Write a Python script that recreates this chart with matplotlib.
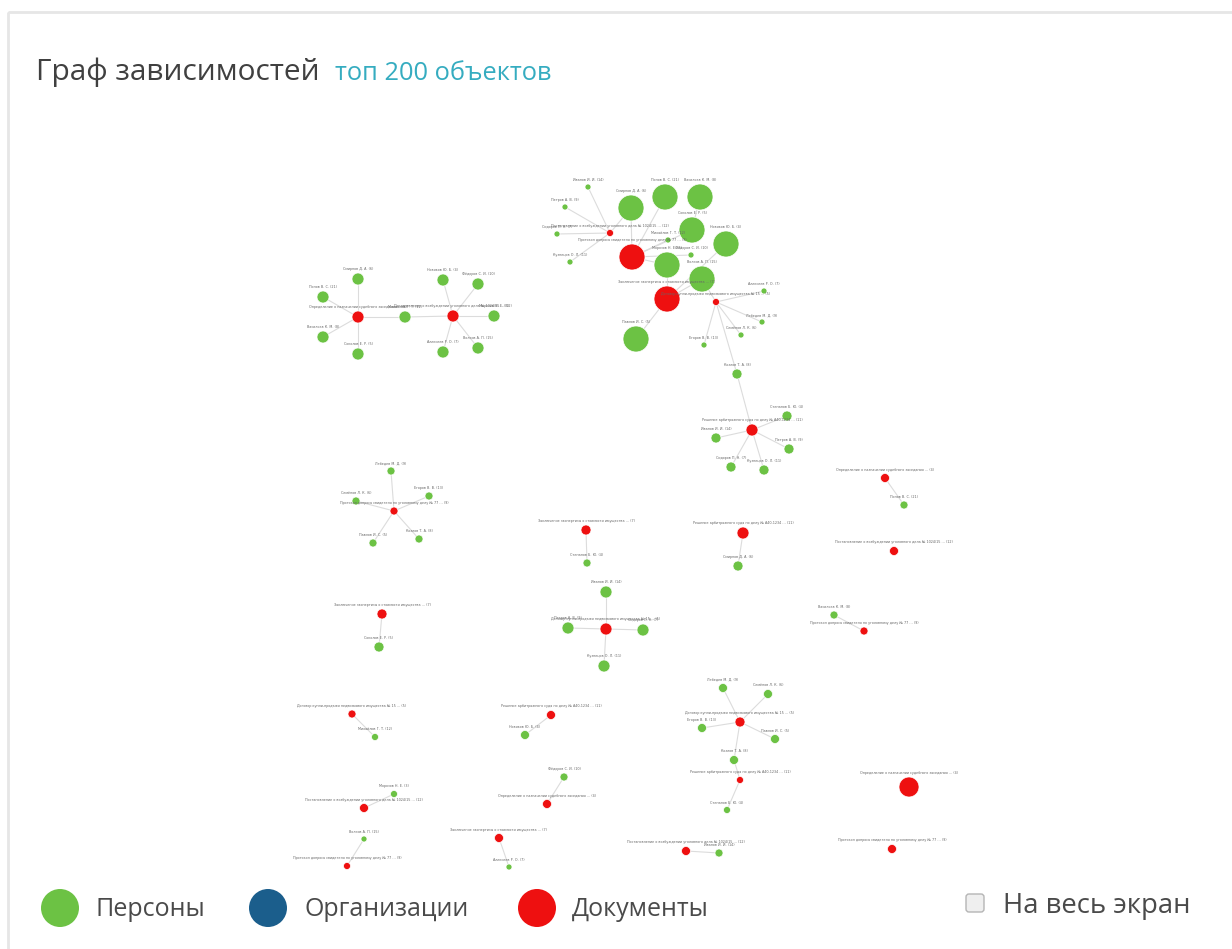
import matplotlib
matplotlib.use("Agg")
import matplotlib.pyplot as plt
from matplotlib.patches import Rectangle, FancyBboxPatch, Circle
from matplotlib.collections import LineCollection

# ---------------- data ----------------
title = "Граф зависимостей"
subtitle = "топ 200 объектов"
legend_labels = ["Персоны", "Организации", "Документы"]
fullscreen_label = "На весь экран"

# node types: 'p' = person, 'd' = document
node_type = ['d', 'p', 'p', 'p', 'p', 'p', 'p', 'p', 'p', 'p', 'p', 'd', 'p', 'p', 'p', 'd', 'd',
             'p', 'p', 'p', 'p', 'p', 'p',
             'd', 'p', 'p', 'p', 'p', 'p',
             'd', 'p', 'p', 'p', 'p', 'p', 'd', 'p', 'p', 'p', 'p', 'p',
             'd', 'p', 'p', 'p', 'p', 'p',
             'd', 'p', 'p', 'd', 'p', 'p', 'p', 'd', 'p', 'd', 'p', 'd', 'p', 'd',
             'd', 'p', 'd', 'p', 'd', 'p', 'p', 'd', 'p', 'd', 'p', 'd', 'd', 'p',
             'p', 'p', 'd', 'p', 'p', 'p', 'd', 'p', 'd', 'd', 'p', 'd']
node_x = [610, 588, 565, 557, 570, 631, 665, 700, 692, 668, 726, 632, 691, 667, 702, 667, 716,
          764, 762, 741, 704, 636, 737,
          752, 787, 716, 789, 731, 764,
          358, 358, 323, 323, 358, 405, 453, 443, 478, 494, 478, 443,
          394, 391, 356, 429, 373, 419,
          586, 587, 606, 606, 568, 643, 604, 743, 738, 885, 904, 894, 834, 864,
          382, 379, 352, 375, 551, 525, 564, 547, 394, 364, 364, 347, 499, 509,
          723, 768, 740, 702, 775, 734, 740, 727, 909, 686, 719, 892]
node_y = [233, 187, 207, 234, 262, 208, 197, 197, 230, 240, 244, 257, 255, 265, 279, 299, 302,
          291, 322, 335, 345, 339, 374,
          430, 416, 438, 449, 467, 470,
          317, 279, 297, 337, 354, 317, 316, 280, 284, 316, 348, 352,
          511, 471, 501, 496, 543, 539,
          530, 563, 592, 629, 628, 630, 666, 533, 566, 478, 505, 551, 615, 631,
          614, 647, 714, 737, 715, 735, 777, 804, 794, 808, 839, 866, 838, 867,
          688, 694, 722, 728, 739, 760, 780, 810, 787, 851, 853, 849]
node_r = [3.5, 3, 3, 3, 3, 13, 13, 13, 13, 3, 13, 13, 3, 13, 13, 13, 3.5,
          3, 3, 3, 3, 13, 5,
          6, 5, 5, 5, 5, 5,
          6, 6, 6, 6, 6, 6, 6, 6, 6, 6, 6, 6,
          4, 4, 4, 4, 4, 4,
          5, 4, 6, 6, 6, 6, 6, 6, 5, 4.5, 4, 4.5, 4, 4,
          5, 5, 4, 3.5, 4.5, 4.5, 4, 4.5, 3.5, 4.5, 3, 3.5, 4.5, 3,
          4.5, 4.5, 5, 4.5, 4.5, 4.5, 3.5, 3.5, 10, 4.5, 4, 4.5]
edges = [(0, 1), (0, 2), (0, 3), (0, 4), (0, 5), (11, 5), (11, 6), (11, 8), (11, 9), (11, 12),
         (11, 13), (15, 13), (15, 14), (15, 21), (15, 10), (8, 7), (16, 17), (16, 18), (16, 19),
         (16, 20), (16, 22), (16, 14), (22, 23),
         (23, 24), (23, 25), (23, 26), (23, 27), (23, 28),
         (29, 30), (29, 31), (29, 32), (29, 33), (29, 34), (35, 34), (35, 36), (35, 37),
         (35, 38), (35, 39), (35, 40),
         (41, 42), (41, 43), (41, 44), (41, 45), (41, 46),
         (47, 48), (50, 49), (50, 51), (50, 52), (50, 53), (54, 55), (56, 57), (59, 60),
         (61, 62), (63, 64), (65, 66), (67, 68), (69, 70), (71, 72), (73, 74),
         (77, 75), (77, 76), (77, 78), (77, 79), (77, 80), (81, 80), (81, 82), (84, 85)]

person_names = ["Иванов И. И. (14)", "Петров А. В. (9)", "Сидоров П. Н. (7)", "Кузнецов О. Л. (11)",
                "Смирнов Д. А. (6)", "Попов В. С. (21)", "Васильев К. М. (8)", "Соколов Е. Р. (5)",
                "Михайлов Г. Т. (12)", "Новиков Ю. Б. (4)", "Фёдоров С. И. (10)", "Морозов Н. Е. (3)",
                "Волков А. П. (15)", "Алексеев Р. О. (7)", "Лебедев М. Д. (9)", "Семёнов Л. К. (6)",
                "Егоров В. В. (13)", "Павлов И. С. (5)", "Козлов Т. А. (8)", "Степанов Б. Ю. (4)"]
doc_titles = ["Постановление о возбуждении уголовного дела № 1024/15 ... (12)",
              "Протокол допроса свидетеля по уголовному делу № 77 ... (9)",
              "Заключение экспертизы о стоимости имущества ... (7)",
              "Договор купли-продажи недвижимого имущества № 15 ... (5)",
              "Решение арбитражного суда по делу № А40-1234 ... (11)",
              "Определение о назначении судебного заседания ... (4)"]

# ---------------- style ----------------
GREEN = "#6cc244"
RED = "#ee1010"
BLUE = "#1b5e8c"
W, H = 1232, 949

plt.rcParams['font.family'] = ['Open Sans', 'DejaVu Sans']
fig = plt.figure(figsize=(W / 100, H / 100), dpi=100)
ax = fig.add_axes([0, 0, 1, 1])
ax.set_xlim(0, W)
ax.set_ylim(H, 0)
ax.axis('off')

# panel border
ax.add_patch(Rectangle((8, 12), W + 20, H + 20, fill=False, ec="#e6e6e6", lw=2))

# title
ax.text(36, 80, title, fontsize=21.5, color="#404040", va="baseline", ha="left")
ax.text(335, 80, subtitle, fontsize=18.3, color="#35acc0", va="baseline", ha="left")

# edges
segs = [[(node_x[a], node_y[a]), (node_x[b], node_y[b])] for a, b in edges]
ax.add_collection(LineCollection(segs, colors="#dcdcdc", linewidths=0.8, zorder=1))

# nodes and labels
pi = di = 0
for i, t in enumerate(node_type):
    col = GREEN if t == 'p' else RED
    ax.add_patch(Circle((node_x[i], node_y[i]), node_r[i], fc=col, ec="white", lw=0.5, zorder=3))
    if t == 'p':
        lab = person_names[pi % len(person_names)]
        pi += 1
    else:
        lab = doc_titles[di % len(doc_titles)]
        di += 1
    ax.text(node_x[i], node_y[i] - node_r[i] - 2, lab, fontsize=2.4, color="#666666",
            ha="center", va="bottom", zorder=4, family="DejaVu Sans")

# legend
leg_x = [60, 268, 537]
leg_cols = [GREEN, BLUE, RED]
leg_tx = [95, 305, 572]
for cx, c, tx, lab in zip(leg_x, leg_cols, leg_tx, legend_labels):
    ax.add_patch(Circle((cx, 908), 19, fc=c, ec="none"))
    ax.text(tx, 910, lab, fontsize=18, color="#4a4a4a", va="center", ha="left")

ax.add_patch(FancyBboxPatch((966, 894), 18, 18, boxstyle="round,pad=0,rounding_size=3",
                            fc="#efefef", ec="#b5b5b5", lw=1))
ax.text(1003, 906, fullscreen_label, fontsize=19.8, color="#4a4a4a", va="center", ha="left")

fig.savefig("out.png", dpi=100, facecolor="white")
